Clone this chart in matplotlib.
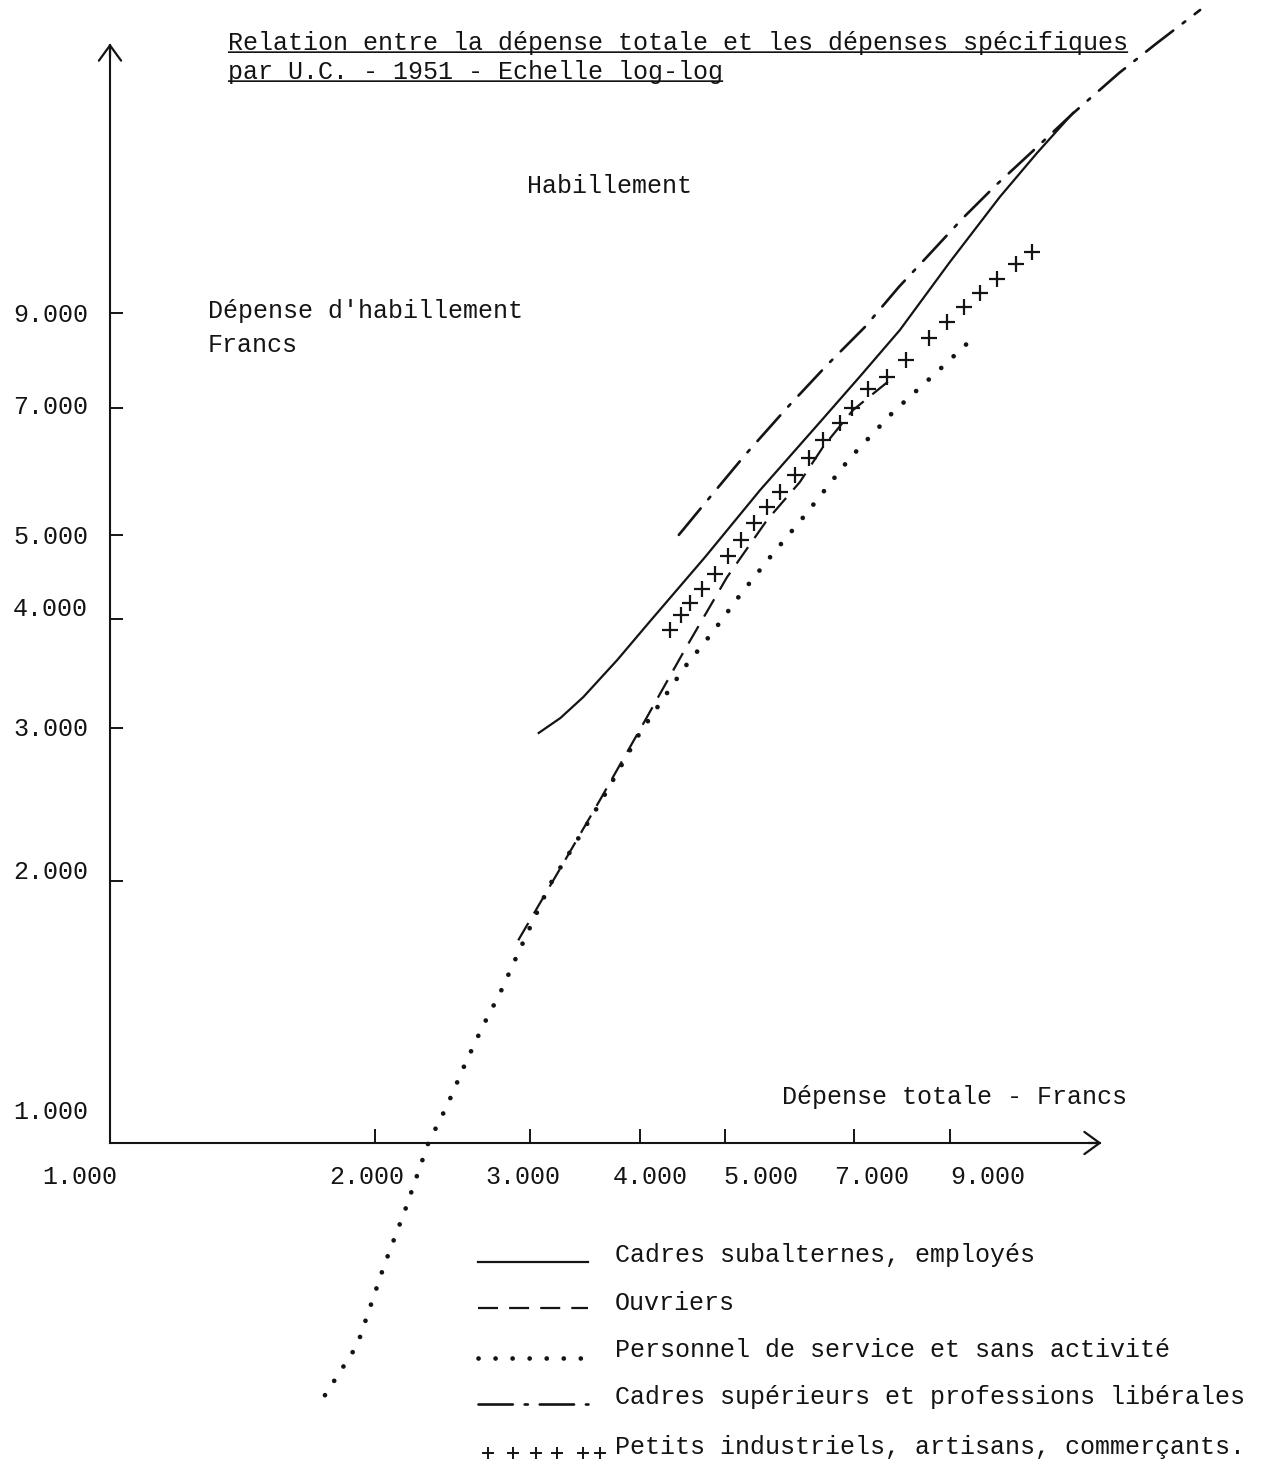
import numpy as np
import matplotlib.pyplot as plt
from matplotlib.ticker import NullLocator

plt.rcParams['font.family'] = ['Liberation Mono', 'DejaVu Sans Mono']

# total spending per consumption unit (x) vs clothing spending (y), francs
cadres_sub_x = [3070, 3250, 3450, 3770, 4110, 4745, 5480, 6410, 7120, 7900, 9000, 10260, 11310, 12430]
cadres_sub_y = [2960, 3080, 3255, 3590, 3980, 4715, 5630, 6740, 7610, 8600, 10290, 12230, 13740, 15280]

ouvriers_x = [2910, 3250, 3605, 4000, 4500, 5025, 5580, 6080, 6460, 6990, 7700]
ouvriers_y = [1710, 2070, 2480, 2985, 3690, 4470, 5200, 5750, 6310, 6960, 7535]

personnel_x = [1755, 1910, 2050, 2165, 2300, 2415, 2530, 2650, 2775, 2915, 3160, 3605,
               4000, 4500, 4845, 5200, 5640, 6165, 6935, 7760, 8680, 9565]
personnel_y = [513, 586, 724, 838, 1000, 1103, 1230, 1360, 1487, 1660, 1980, 2460,
               2960, 3525, 3870, 4265, 4730, 5270, 6130, 6920, 7675, 8420]

cadres_sup_x = [4430, 4745, 5270, 5880, 6530, 7210, 7880, 8520, 9320, 10160, 11160, 12400, 14020, 15480, 17330]
cadres_sup_y = [5000, 5440, 6180, 7000, 7840, 8670, 9640, 10490, 11570, 12620, 13780, 15230, 16980, 18380, 20060]

petits_x = [4330, 4455, 4560, 4710, 4870, 5040, 5210, 5395, 5580, 5770, 6000, 6230, 6460,
            6755, 6970, 7265, 7640, 8025, 8520, 8935, 9345, 9740, 10185, 10705, 11160]
petits_y = [3890, 4045, 4175, 4335, 4510, 4730, 4935, 5160, 5385, 5600, 5860, 6130, 6430,
            6725, 6995, 7355, 7595, 7945, 8420, 8785, 9140, 9485, 9840, 10240, 10570]

tick_vals = [2000, 3000, 4000, 5000, 7000, 9000]
label_vals = [1000, 2000, 3000, 4000, 5000, 7000, 9000]
label_txt = ['1.000', '2.000', '3.000', '4.000', '5.000', '7.000', '9.000']

legend_txt = ['Cadres subalternes, employés',
              'Ouvriers',
              'Personnel de service et sans activité',
              'Cadres supérieurs et professions libérales',
              'Petits industriels, artisans, commerçants.']

INK = '#141414'
W, H = 1275, 1465
ox, oy = 110, 1143      # origin (1.000, 1.000) in pixels
kx, ky = 880, 870       # pixels per decade

fig = plt.figure(figsize=(W / 100, H / 100), dpi=100)
fig.patch.set_facecolor('white')
ax = fig.add_axes([0, 0, 1, 1])
ax.set_facecolor('white')
ax.set_xscale('log')
ax.set_yscale('log')
ax.set_xlim(10 ** (3 - ox / kx), 10 ** (3 + (W - ox) / kx))
ax.set_ylim(10 ** (3 - (H - oy) / ky), 10 ** (3 + oy / ky))

# axes through (1000, 1000)
for s in ['top', 'right']:
    ax.spines[s].set_visible(False)
ax.spines['left'].set_position(('data', 1000))
ax.spines['bottom'].set_position(('data', 1000))
x_end = 10 ** (3 + (1100 - ox) / kx)
y_end = 10 ** (3 + (oy - 45) / ky)
ax.spines['bottom'].set_bounds(1000, x_end)
ax.spines['left'].set_bounds(1000, y_end)
for s in ['left', 'bottom']:
    ax.spines[s].set_linewidth(1.5)
    ax.spines[s].set_color(INK)

ax.set_xticks(tick_vals)
ax.set_yticks(tick_vals)
ax.xaxis.set_minor_locator(NullLocator())
ax.yaxis.set_minor_locator(NullLocator())
ax.set_xticklabels([])
ax.set_yticklabels([])
ax.tick_params(axis='x', direction='in', length=10, width=1.4, color=INK)
ax.tick_params(axis='y', direction='in', length=9, width=1.4, color=INK)

arrow = dict(arrowstyle='->,head_length=0.55,head_width=0.4', lw=1.6, color=INK,
             mutation_scale=20, shrinkA=0, shrinkB=0)
ax.annotate('', xy=(x_end * 1.004, 1000), xytext=(x_end * 0.97, 1000), arrowprops=arrow)
ax.annotate('', xy=(1000, y_end * 1.004), xytext=(1000, y_end * 0.97), arrowprops=arrow)

fs = 18
x_dx = [-30, -8, -7, 10, 36, 18, 38]
for v, t, dx in zip(label_vals, label_txt, x_dx):
    ax.annotate(t, xy=(v, 1000), xytext=(dx, -34), textcoords='offset pixels',
                ha='center', va='center', fontsize=fs, color=INK)
y_dy = [31, 9, -1, 10, -2, 1, -2]
for v, t, dy in zip(label_vals, label_txt, y_dy):
    ax.annotate(t, xy=(1000, v), xytext=(-22, dy), textcoords='offset pixels',
                ha='right', va='center', fontsize=fs, color=INK)

# curves
styles = [dict(ls='-', lw=1.6),
          dict(ls=(0, (9, 5)), lw=1.6),
          dict(ls=(0, (0.01, 3.6)), lw=3.4, dash_capstyle='round'),
          dict(ls=(0, (13, 4.5, 1.2, 4.5)), lw=1.9, dash_capstyle='round'),
          dict(ls='none', marker='+', ms=12, mew=1.6)]

ax.plot(cadres_sub_x, cadres_sub_y, color=INK, **styles[0])
ax.plot(ouvriers_x, ouvriers_y, color=INK, **styles[1])
ax.plot(personnel_x, personnel_y, color=INK, **styles[2])
ax.plot(cadres_sup_x, cadres_sup_y, color=INK, **styles[3])
ax.plot(petits_x, petits_y, color=INK, **styles[4])

# legend keys, typed below the graph
key_rows = [1262, 1308, 1358, 1404, 1453]
txt_rows = [1255, 1303, 1350, 1397, 1447]
for i in range(5):
    yk = 1 - key_rows[i] / H
    if i < 4:
        ax.plot([478 / W, 588 / W], [yk, yk], transform=ax.transAxes, color=INK,
                clip_on=False, **styles[i])
    else:
        xs = np.array([488, 513, 536, 557, 583, 600]) / W
        ax.plot(xs, [yk] * len(xs), transform=ax.transAxes, color=INK,
                clip_on=False, ls='none', marker='+', ms=9, mew=1.4)
    fig.text(615 / W, 1 - txt_rows[i] / H, legend_txt[i], fontsize=fs, va='center', color=INK)

# titles and axis names
title1 = 'Relation entre la dépense totale et les dépenses spécifiques'
title2 = 'par U.C. - 1951 - Echelle log-log'
for t, yb in [(title1, 50), (title2, 79)]:
    fig.text(228 / W, 1 - yb / H, t, fontsize=fs, va='baseline', color=INK)
    fig.text(228 / W, 1 - yb / H, '_' * len(t), fontsize=fs, va='baseline', color=INK)

fig.text(527 / W, 1 - 186 / H, 'Habillement', fontsize=fs, va='center', color=INK)
fig.text(208 / W, 1 - 311 / H, "Dépense d'habillement", fontsize=fs, va='center', color=INK)
fig.text(208 / W, 1 - 345 / H, 'Francs', fontsize=fs, va='center', color=INK)
fig.text(782 / W, 1 - 1097 / H, 'Dépense totale - Francs', fontsize=fs, va='center', color=INK)

fig.savefig('out.png', dpi=100, facecolor='white')
